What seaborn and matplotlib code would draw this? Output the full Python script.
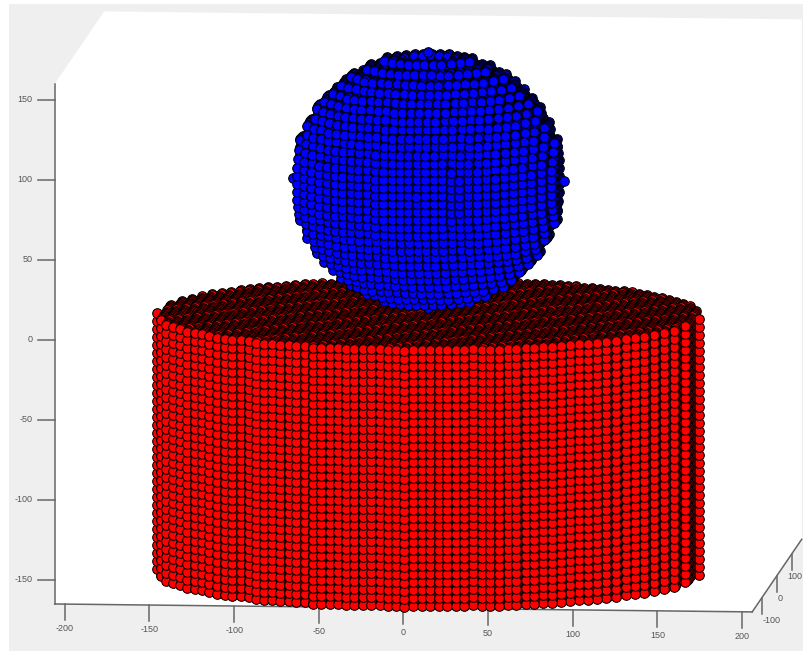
import numpy as np
import pandas as pd
import seaborn as sns
import matplotlib.pyplot as plt

# lattice of the particles, same in x and y
lattice = list(range(-160, 165, 5))

# cylinder: height of each layer and its radius
cyl_levels = [-165, -160, -155, -150, -145, -140, -135, -130, -125, -120, -115,
              -110, -105, -100, -95, -90, -85, -80, -75, -70, -65, -60,
              -55, -50, -45, -40, -35, -30, -25, -20, -15, -10, -5]
cyl_radius = 160

# sphere: height of each layer and radius of that layer
sph_levels = [0, 5, 10, 15, 20, 25, 30, 35, 40, 45, 50, 55, 60, 65, 70, 75, 80,
              85, 90, 95, 100, 105, 110, 115, 120, 125, 130, 135, 140, 145, 150, 155, 160]
sph_radii = [0, 27.8, 38.7, 46.6, 52.9, 58.1, 62.4, 66.1, 69.3, 71.9, 74.2, 76, 77.5, 78.6, 79.4, 79.8, 80,
             79.8, 79.4, 78.6, 77.5, 76, 74.2, 71.9, 69.3, 66.1, 62.4, 58.1, 52.9, 46.6, 38.7, 27.8, 0]

x_ticks = [-200, -150, -100, -50, 0, 50, 100, 150, 200]
y_ticks = [-100, 0, 100]
z_ticks = [-150, -100, -50, 0, 50, 100, 150]

# axes box of the 3D view
x_lim = (-206, 206)
y_lim = (-165, 165)
z_lim = (-165, 160)


def view(x, y, z):
    # view from slightly above and to the side, in units of the x and z ticks
    x, y, z = np.asarray(x, float), np.asarray(y, float), np.asarray(z, float)
    sx = x + 0.0886 * (y - y_lim[0])
    sy = z - 0.01206 * (x - x_lim[0]) + 0.1375 * (y - y_lim[0])
    return sx, sy


def layers(levels, radii, inner):
    rows = []
    for i, (z, r) in enumerate(zip(levels, radii)):
        for x in lattice:
            for y in lattice:
                d = np.hypot(x, y)
                if d > r + 0.01:
                    continue
                # inner particles never show, leave them out (top layer is seen whole)
                if d < r - inner and i != len(levels) - 1:
                    continue
                rows.append((x, y, z))
    df = pd.DataFrame(rows, columns=['x', 'y', 'z'])
    df['sx'], df['sy'] = view(df.x, df.y, df.z)
    df['depth'] = -0.0886 * df.x + 0.996 * df.y - 0.138 * df.z
    return df.sort_values('depth', ascending=False)


cyl = layers(cyl_levels, [cyl_radius] * len(cyl_levels), 14)
cyl = cyl[(cyl.y < 20) | (cyl.z == cyl_levels[-1])]
sph = layers(sph_levels, sph_radii, 12)

fig = plt.figure(figsize=(8.04, 6.51), dpi=100)
ax = fig.add_axes([0, 0, 1, 1])
ax.set_xlim(-238.3, 236.6)
ax.set_ylim(-194.4, 212.5)
ax.axis('off')

# grey window and white plot box
ax.fill([-233, 237, 237, -233], [210, 210, -195, -195], color='#efefef', lw=0, zorder=0)
bx = [x_lim[0], x_lim[0], x_lim[0], x_lim[1], x_lim[1], x_lim[1]]
by = [y_lim[0], y_lim[0], y_lim[1], y_lim[1], y_lim[1], y_lim[0]]
bz = [z_lim[0], z_lim[1], z_lim[1], z_lim[1], z_lim[0], z_lim[0]]
sx, sy = view(bx, by, bz)
ax.fill(sx, sy, color='white', lw=0, zorder=0.5)

line = dict(color='#666666', lw=1.1, zorder=1)
text = dict(fontsize=6.5, color='#555555', family='Liberation Sans')

# z axis
sx, sy = view([x_lim[0]] * 2, [y_lim[0]] * 2, z_lim)
ax.plot(sx, sy, **line)
for t in z_ticks:
    sx, sy = view(x_lim[0], y_lim[0], t)
    ax.plot([sx - 10, sx], [t, t], **line)
    ax.text(sx - 13, t, str(t), ha='right', va='center', **text)

# x axis
sx, sy = view(x_lim, [y_lim[0]] * 2, [z_lim[0]] * 2)
ax.plot(sx, sy, **line)
for t in x_ticks:
    sx, sy = view(t, y_lim[0], z_lim[0])
    ax.plot([sx, sx], [sy, sy - 10], **line)
    ax.text(sx, sy - 15.5, str(t), ha='center', va='center', **text)

# y axis, the last label is pulled in so it stays inside the window
sx, sy = view([x_lim[1]] * 2, y_lim, [z_lim[0]] * 2)
ax.plot(sx, sy, **line)
for t, shift in zip(y_ticks, [0.5, 0.5, -2.5]):
    sx, sy = view(x_lim[1], t, z_lim[0])
    ax.plot([sx, sx], [sy, sy - 10], **line)
    ax.text(sx + shift, sy - 14.5, str(t), ha='left', va='center', **text)

dots = dict(s=48, edgecolor='black', linewidth=0.75, legend=False, zorder=3, ax=ax)
sns.scatterplot(data=cyl, x='sx', y='sy', color='#ff0000', **dots)
sns.scatterplot(data=sph, x='sx', y='sy', color='#0000ff', **dots)
ax.set_xlim(-238.3, 236.6)
ax.set_ylim(-194.4, 212.5)

fig.savefig('out.png', dpi=100)
